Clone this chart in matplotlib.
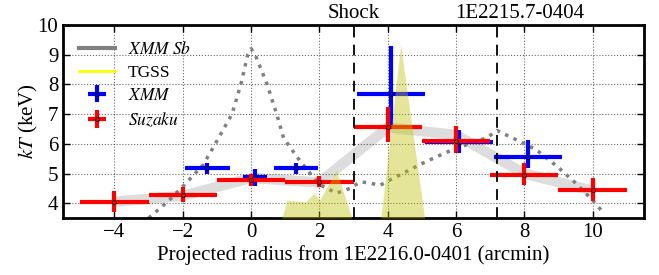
import numpy as np
import matplotlib
matplotlib.use('Agg')
import matplotlib.pyplot as plt
from matplotlib.lines import Line2D

plt.rcParams['font.family'] = ['Liberation Serif', 'DejaVu Serif']
plt.rcParams['mathtext.fontset'] = 'stix'

# Suzaku temperatures
suz_x = [-4, -2, 0, 2, 4, 6, 8, 10]
suz_kt = [4.04, 4.28, 4.78, 4.71, 6.58, 6.09, 4.95, 4.44]
suz_up = [0.37, 0.27, 0.20, 0.20, 0.66, 0.50, 0.40, 0.41]
suz_lo = [0.34, 0.24, 0.20, 0.16, 0.51, 0.39, 0.35, 0.37]
suz_xerr = [1, 1, 1, 1, 1, 1, 1, 1]

# XMM temperatures
xmm_x = [-1.28, 0.12, 1.32, 4.1, 6.08, 8.1]
xmm_kt = [5.18, 4.89, 5.18, 7.68, 6.06, 5.55]
xmm_up = [0.17, 0.26, 0.17, 1.62, 0.41, 0.58]
xmm_lo = [0.18, 0.31, 0.20, 1.05, 0.36, 0.37]
xmm_xerr = [0.65, 0.35, 0.65, 1.0, 1.0, 1.0]

# model band
band_x = [-4, -2, 0, 2, 4, 6, 8, 10]
band_y = [4.05, 4.25, 4.85, 4.7, 6.55, 6.3, 5.0, 4.42]

# XMM surface brightness (scaled)
sb_x = [-3.0, -2.4, -1.9, -1.4, -1.0, -0.56, -0.3, -0.1, 0.0, 0.12, 0.47, 0.75,
        0.95, 1.35, 1.73, 2.05, 2.5, 2.9, 3.2, 3.48, 3.77, 4.06, 4.44, 4.94,
        5.5, 5.9, 6.5, 6.9, 7.2, 7.65, 8.35, 9.0, 9.5, 10.0, 10.3]
sb_y = [3.5, 4.1, 4.68, 5.3, 6.1, 7.0, 8.0, 9.0, 9.2, 9.0, 8.0, 7.0,
        6.2, 5.55, 5.0, 4.6, 4.34, 4.5, 4.72, 4.68, 4.6, 4.78, 5.0, 5.3,
        5.6, 5.8, 6.05, 6.2, 6.45, 6.2, 5.8, 5.2, 4.68, 4.1, 3.7]

# TGSS radio profile (scaled)
tg_x = [0.9, 1.05, 1.6, 1.85, 2.0, 2.5, 2.95, 3.8, 4.38, 5.08]
tg_y = [3.5, 4.1, 4.05, 4.35, 4.1, 5.1, 3.5, 3.5, 9.33, 3.5]

shock_x = 3.0
source_x = 7.2

fig = plt.figure(figsize=(6.59, 2.75), dpi=100)
ax = fig.add_axes([0.096, 0.207, 0.881, 0.702])

ax.plot(band_x, band_y, color='#d8d8d8', lw=7.5, alpha=0.85, solid_capstyle='butt', zorder=1)
ax.plot(sb_x, sb_y, color='gray', ls=':', lw=2.5, zorder=2)

ax.errorbar(xmm_x, xmm_kt, xerr=xmm_xerr, yerr=[xmm_lo, xmm_up], fmt='o', color='b',
            elinewidth=3, ms=3, mfc='none', mec='k', mew=0.6, capsize=0, zorder=3)
ax.errorbar(suz_x, suz_kt, xerr=suz_xerr, yerr=[suz_lo, suz_up], fmt='o', color='r',
            elinewidth=3, ms=3, mfc='none', mec='k', mew=0.6, capsize=0, zorder=4)

ax.fill_between(tg_x, 3.5, tg_y, color='y', alpha=0.4, lw=0, zorder=5)

ax.axvline(shock_x, color='k', ls='--', lw=1.3, dashes=(6, 4), zorder=6)
ax.axvline(source_x, color='k', ls='--', lw=1.3, dashes=(6, 4), zorder=6)
ax.text(shock_x, 10.08, 'Shock', ha='center', va='bottom', fontsize=15)
ax.text(7.87, 10.08, '1E2215.7-0404', ha='center', va='bottom', fontsize=15)

ax.set_xlim(-5.5, 11.5)
ax.set_ylim(3.5, 10)
ax.set_xticks([-4, -2, 0, 2, 4, 6, 8, 10])
ax.set_yticks([4, 5, 6, 7, 8, 9, 10])
ax.set_xticklabels(['\u22124', '\u22122', '0', '2', '4', '6', '8', '10'])
ax.tick_params(direction='in', top=True, right=True, labelsize=15, length=5, width=1)
ax.grid(True, ls=':', color='k', lw=0.8, alpha=0.6)
for s in ax.spines.values():
    s.set_linewidth(2)

ax.set_xlabel('Projected radius from 1E2216.0-0401 (arcmin)', fontsize=15, labelpad=2)
ax.set_ylabel('$kT$ (keV)', fontsize=15, labelpad=-2)

handles = [
    Line2D([], [], color='gray', lw=3),
    Line2D([], [], color='yellow', lw=2),
    ax.containers[0],
    ax.containers[1],
]
labels = ['$XMM\\ Sb$', 'TGSS', '$XMM$', '$Suzaku$']
ax.legend(handles, labels, loc='upper left', frameon=False, fontsize=12.5,
          handlelength=2.1, handletextpad=0.7, labelspacing=0.4,
          borderaxespad=0.5)

fig.savefig('out.png', dpi=100)
